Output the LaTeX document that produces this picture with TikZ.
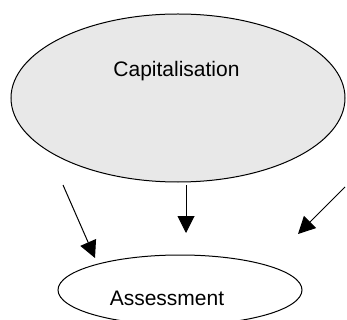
\documentclass[tikz,border=0pt]{standalone}
\usepackage{fontspec}
\setmainfont{Liberation Sans}
\usetikzlibrary{shapes.geometric,arrows.meta}
\definecolor{texfill}{RGB}{232,232,232}
\tikzset{
  oval/.style={ellipse, draw=black, line width=1pt, inner sep=0pt},
  lbl/.style={font=\fontsize{21}{24}\selectfont, inner sep=0pt, anchor=base},
  conn/.style={line width=1pt, -{Triangle[length=17pt,width=17pt]}}
}
\begin{document}
\begin{tikzpicture}[x=1pt,y=-1pt]
\useasboundingbox (0,0) rectangle (347,320);
\clip (0,0) rectangle (347,320);
\node[oval, fill=texfill, minimum width=334pt, minimum height=168pt] (cap) at (178,98) {};
\node[lbl] (captxt) at (176.5,77) {Capitalisation};
\node[oval, fill=white, minimum width=244pt, minimum height=70pt] (ass) at (180,290) {};
\node[lbl] (asstxt) at (167,305) {Assessment};
\coordinate (l1) at (63,185);
\coordinate (l2) at (95,258);
\coordinate (m1) at (186,185);
\coordinate (m2) at (186,233);
\coordinate (r1) at (345,187);
\coordinate (r2) at (298,234);
\draw[conn] (l1) -- (l2);
\draw[conn] (m1) -- (m2);
\draw[conn] (r1) -- (r2);
\end{tikzpicture}
\end{document}
